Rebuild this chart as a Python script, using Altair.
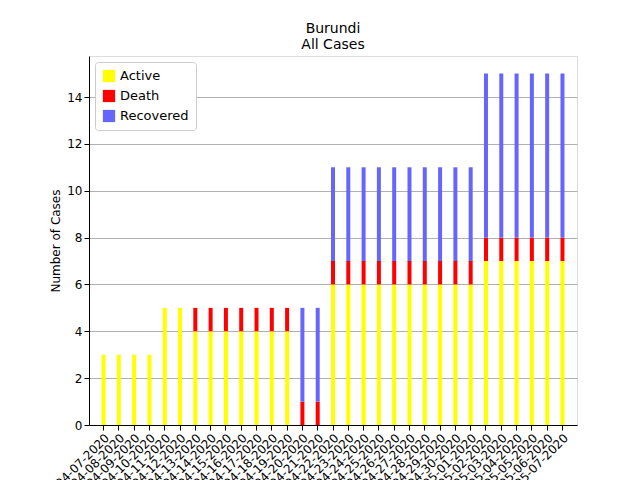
import altair as alt
import pandas as pd

dates = [f"04-{d:02d}-2020" for d in range(7, 31)] + [f"05-{d:02d}-2020" for d in range(1, 8)]
active = [3] * 4 + [5] * 2 + [4] * 7 + [0] * 2 + [6] * 10 + [7] * 6
death = [0] * 6 + [1] * 7 + [1] * 2 + [1] * 10 + [1] * 6
recovered = [0] * 13 + [4] * 2 + [4] * 10 + [7] * 6

series = ["Active", "Death", "Recovered"]
colors = ["#ffff00", "#ff0000", "#6666ff"]

rows = []
for i, d in enumerate(dates):
    for s, v in zip(series, [active[i], death[i], recovered[i]]):
        rows.append({"date": d, "series": s, "value": v, "order": series.index(s)})
df = pd.DataFrame(rows)

chart = (
    alt.Chart(df)
    .mark_bar(size=4)
    .encode(
        x=alt.X("date:N", sort=dates, title=None,
                scale=alt.Scale(paddingOuter=0.5),
                axis=alt.Axis(labelAngle=-45, labelFontSize=12, labelColor="black",
                              tickColor="black", domainColor="black", labelAlign="right",
                              labelBaseline="top")),
        y=alt.Y("value:Q", stack="zero", title="Number of Cases",
                scale=alt.Scale(domain=[0, 15.75], nice=False),
                axis=alt.Axis(values=list(range(0, 16, 2)), grid=True, gridColor="#b0b0b0",
                              labelFontSize=12, titleFontSize=12, titleFontWeight="normal",
                              labelColor="black", titleColor="black", tickColor="black",
                              domainColor="black")),
        color=alt.Color("series:N", sort=series,
                        scale=alt.Scale(domain=series, range=colors),
                        legend=alt.Legend(title=None, orient="none", legendX=6, legendY=6,
                                          symbolType="square", symbolSize=150,
                                          labelFontSize=13, rowPadding=6,
                                          fillColor="white", strokeColor="#cccccc",
                                          padding=7, cornerRadius=3)),
        order=alt.Order("order:Q"),
    )
    .properties(
        width=488, height=369,
        padding={"left": 41, "top": 14, "right": 5, "bottom": 5},
        title=alt.Title(["Burundi", "All Cases"], fontSize=14, fontWeight="normal"),
    )
    .configure_view(stroke="black", strokeWidth=1)
    .configure(font="DejaVu Sans")
)

chart.save("out.html", embed_options={"renderer": "svg", "actions": False})
